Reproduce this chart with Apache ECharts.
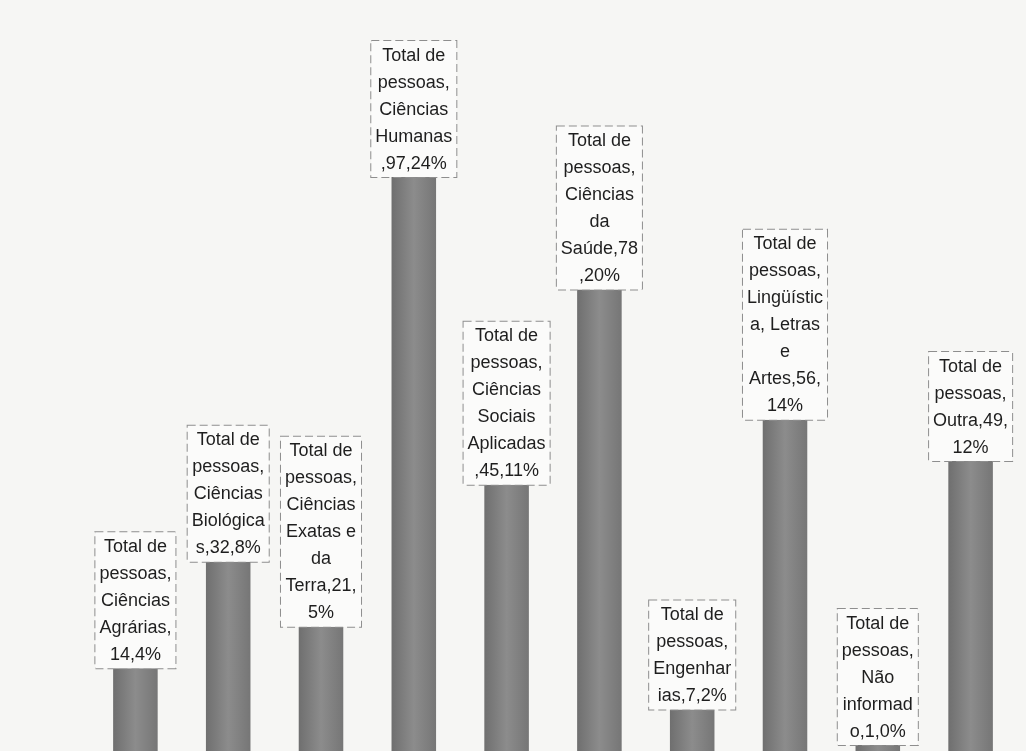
<!DOCTYPE html>
<html>
<head>
<meta charset="utf-8">
<script src="https://cdn.jsdelivr.net/npm/echarts@6/dist/echarts.min.js"></script>
<style>
html,body{margin:0;padding:0;background:#f6f6f4;}
#container{width:1026px;height:751px;}
</style>
</head>
<body>
<div id="container"></div>
<script>
var categories = ['Ciências Agrárias', 'Ciências Biológicas', 'Ciências Exatas e da Terra',
    'Ciências Humanas', 'Ciências Sociais Aplicadas', 'Ciências da Saúde', 'Engenharias',
    'Lingüística, Letras e Artes', 'Não informado', 'Outra'];
var values = [14, 32, 21, 97, 45, 78, 7, 56, 1, 49];
var percents = ['4%', '8%', '5%', '24%', '11%', '20%', '2%', '14%', '0%', '12%'];
// label text as wrapped in the original
var labelTexts = [
    'Total de\npessoas,\nCiências\nAgrárias,\n14,4%',
    'Total de\npessoas,\nCiências\nBiológica\ns,32,8%',
    'Total de\npessoas,\nCiências\nExatas e\nda\nTerra,21,\n5%',
    'Total de\npessoas,\nCiências\nHumanas\n,97,24%',
    'Total de\npessoas,\nCiências\nSociais\nAplicadas\n,45,11%',
    'Total de\npessoas,\nCiências\nda\nSaúde,78\n,20%',
    'Total de\npessoas,\nEngenhar\nias,7,2%',
    'Total de\npessoas,\nLingüístic\na, Letras\ne\nArtes,56,\n14%',
    'Total de\npessoas,\nNão\ninformad\no,1,0%',
    'Total de\npessoas,\nOutra,49,\n12%'
];

var dom = document.getElementById("container");
var myChart = echarts.init(dom);

var option = {
    backgroundColor: '#f6f6f4',
    animation: false,
    grid: {
        left: 89,
        right: 9,
        top: 41,
        bottom: -2
    },
    xAxis: {
        type: 'category',
        data: categories,
        axisLine: {show: false},
        axisTick: {show: false},
        axisLabel: {show: false}
    },
    yAxis: {
        type: 'value',
        min: 0,
        max: 120,
        show: false,
        splitLine: {show: false}
    },
    series: [{
        name: 'Total de pessoas',
        type: 'bar',
        barWidth: '48%',
        itemStyle: {
            color: {
                type: 'linear', x: 0, y: 0, x2: 1, y2: 0,
                colorStops: [
                    {offset: 0, color: '#6f6f6f'},
                    {offset: 0.5, color: '#8c8c8c'},
                    {offset: 1, color: '#767676'}
                ]
            }
        },
        label: {
            show: true,
            position: 'top',
            distance: 0,
            formatter: function (p) {
                return labelTexts[p.dataIndex];
            },
            fontFamily: 'Liberation Sans, Arial, sans-serif',
            fontSize: 18,
            lineHeight: 27,
            color: '#1e1e1e',
            align: 'center',
            backgroundColor: '#fbfbfa',
            borderColor: '#8e8e8e',
            borderWidth: 1,
            borderType: 'dashed',
            padding: [1, 4, 0, 4]
        },
        data: values
    }]
};
myChart.setOption(option, true);
</script>
</body>
</html>
